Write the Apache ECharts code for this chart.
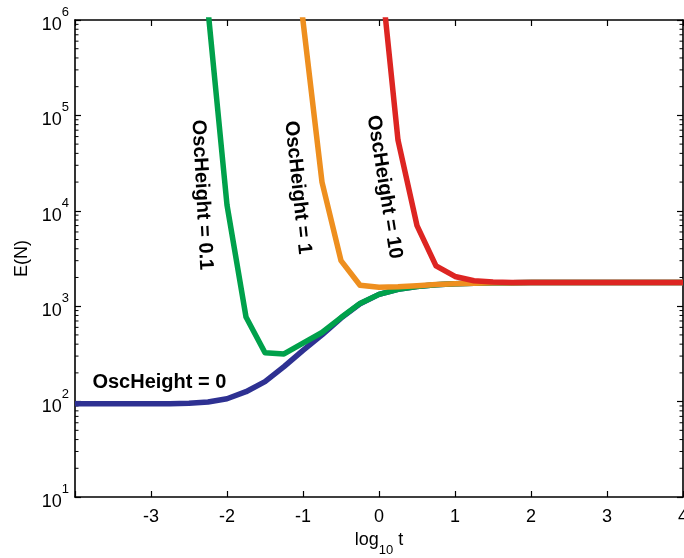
<!DOCTYPE html>
<html>
<head>
<meta charset="utf-8">
<script src="https://cdn.jsdelivr.net/npm/echarts@6/dist/echarts.min.js"></script>
<style>
  html, body { margin: 0; padding: 0; background: #fff; }
  #main { width: 684px; height: 558px; }
</style>
</head>
<body>
<div id="main"></div>
<script>
// log10 t sample points
let logT = [-4, -3.75, -3.5, -3.25, -3, -2.75, -2.5, -2.25, -2, -1.75, -1.5, -1.25, -1, -0.75, -0.5, -0.25,
  0, 0.25, 0.5, 0.75, 1, 1.25, 1.5, 1.75, 2, 2.25, 2.5, 2.75, 3, 3.25, 3.5, 3.75, 4];

// E(N) for each OscHeight (null = not drawn)
let osc0 = [95, 95, 95, 95, 95, 95, 96, 99, 107, 127, 162, 233, 345, 500, 750, 1060,
  1330, 1500, 1610, 1680, 1720, 1745, 1760, 1765, 1770, 1770, 1770, 1770, 1770, 1770, 1770, 1770, 1770];
let osc01 = [null, null, null, null, null, null, 1e8, 1.28e6, 11500, 770, 325, 316, 410, 530, 760, 1070,
  1330, 1500, 1610, 1680, 1720, 1745, 1760, 1765, 1770, 1770, 1770, 1770, 1770, 1770, 1770, 1770, 1770];
let osc1 = [null, null, null, null, null, null, null, null, null, null, null, 5e7, 9.8e5, 20000, 3000, 1660,
  1580, 1600, 1640, 1690, 1720, 1745, 1760, 1765, 1770, 1770, 1770, 1770, 1770, 1770, 1770, 1770, 1770];
let osc10 = [null, null, null, null, null, null, null, null, null, null, null, null, null, null, null, 1e9,
  4.8e6, 55000, 7000, 2650, 2050, 1850, 1790, 1775, 1770, 1770, 1770, 1770, 1770, 1770, 1770, 1770, 1770];

// curve labels
let labelText = ["OscHeight = 0", "OscHeight = 0.1", "OscHeight = 1", "OscHeight = 10"];
let labelX = [-2.89, -2.33, -1.07, 0.07];
let labelY = [160, 14650, 17540, 17780];
let labelRot = [0, -87, -84, -81];

let fontFam = "'Liberation Sans', Arial, Helvetica, sans-serif";

function pairs(ys) {
  let out = [];
  for (let i = 0; i < logT.length; i++) {
    if (ys[i] != null) out.push([logT[i], ys[i]]);
  }
  return out;
}

// MATLAB style minor ticks 2..9 x 10^k
let minorVals = [];
for (let k = 1; k < 6; k++) {
  for (let m = 2; m < 10; m++) minorVals.push([-4, m * Math.pow(10, k)]);
}

function tickStyle() {
  return { show: true, inside: true, length: 6, lineStyle: { color: "#000", width: 1.2 } };
}
function axisLineStyle() {
  return { show: true, onZero: false, lineStyle: { color: "#000", width: 1.6 } };
}

function lineSeries(name, ys, color) {
  return {
    name: name,
    type: "line",
    data: pairs(ys),
    showSymbol: false,
    symbol: "none",
    clip: true,
    lineStyle: { color: color, width: 5.5, join: "round" },
    z: 3
  };
}

let myChart = echarts.init(document.getElementById("main"));

let option = {
  animation: false,
  textStyle: { fontFamily: fontFam },
  grid: { left: 75, right: 1, top: 20, bottom: 61, outerBoundsMode: "none" },
  xAxis: [
    {
      type: "value",
      min: -4,
      max: 4,
      interval: 1,
      position: "bottom",
      axisLine: axisLineStyle(),
      axisTick: tickStyle(),
      splitLine: { show: false },
      axisLabel: {
        color: "#000",
        fontSize: 18,
        fontFamily: fontFam,
        margin: 11,
        showMaxLabel: true,
        showMinLabel: true,
        formatter: function (v) { return v == -4 ? "" : String(v); }
      },
      name: "{b|log}{s|10}{b| t}",
      nameLocation: "middle",
      nameGap: 32,
      nameTextStyle: {
        rich: {
          b: { fontSize: 18, fontFamily: fontFam, color: "#000", lineHeight: 26, verticalAlign: "top" },
          s: { fontSize: 13, fontFamily: fontFam, color: "#000", lineHeight: 26, verticalAlign: "bottom" }
        }
      }
    },
    {
      type: "value",
      min: -4,
      max: 4,
      interval: 1,
      position: "top",
      axisLine: axisLineStyle(),
      axisTick: tickStyle(),
      axisLabel: { show: false },
      splitLine: { show: false }
    }
  ],
  yAxis: [
    {
      type: "log",
      logBase: 10,
      min: 10,
      max: 1e6,
      position: "left",
      axisLine: axisLineStyle(),
      axisTick: tickStyle(),
      splitLine: { show: false },
      axisLabel: {
        margin: 6,
        formatter: function (v) {
          let p = Math.round(Math.log10(v));
          return "{b|10}{s|" + p + "}";
        },
        rich: {
          b: { fontSize: 18, fontFamily: fontFam, color: "#000", lineHeight: 28, verticalAlign: "bottom" },
          s: { fontSize: 13, fontFamily: fontFam, color: "#000", lineHeight: 28, verticalAlign: "top" }
        }
      },
      name: "E(N)",
      nameLocation: "middle",
      nameGap: 36,
      nameTextStyle: { fontSize: 18, fontFamily: fontFam, color: "#000" }
    },
    {
      type: "log",
      logBase: 10,
      min: 10,
      max: 1e6,
      position: "right",
      axisLine: axisLineStyle(),
      axisTick: tickStyle(),
      axisLabel: { show: false },
      splitLine: { show: false }
    }
  ],
  series: [
    lineSeries("OscHeight = 0", osc0, "#2E3192"),
    lineSeries("OscHeight = 0.1", osc01, "#00A14B"),
    lineSeries("OscHeight = 1", osc1, "#EE8F1F"),
    lineSeries("OscHeight = 10", osc10, "#DD2522"),
    {
      type: "custom",
      name: "minorTicks",
      silent: true,
      clip: false,
      data: minorVals,
      renderItem: function (params, api) {
        let v = api.value(1);
        let l = api.coord([-4, v]);
        let r = api.coord([4, v]);
        return {
          type: "group",
          children: [
            { type: "line", shape: { x1: l[0], y1: l[1], x2: l[0] + 3.5, y2: l[1] }, style: { stroke: "#000", lineWidth: 1 } },
            { type: "line", shape: { x1: r[0] - 3.5, y1: r[1], x2: r[0], y2: r[1] }, style: { stroke: "#000", lineWidth: 1 } }
          ]
        };
      },
      z: 1
    },
    {
      type: "scatter",
      name: "labels",
      symbolSize: 0,
      silent: true,
      z: 5,
      itemStyle: { color: "#000" },
      data: labelText.map(function (t, i) {
        return {
          value: [labelX[i], labelY[i]],
          label: {
            show: true,
            position: "inside",
            formatter: t,
            rotate: labelRot[i],
            fontSize: 20,
            fontWeight: "bold",
            fontFamily: fontFam,
            color: "#000",
            textBorderWidth: 0,
            textBorderColor: "transparent",
            opacity: 1
          }
        };
      })
    }
  ]
};

myChart.setOption(option);
</script>
</body>
</html>
